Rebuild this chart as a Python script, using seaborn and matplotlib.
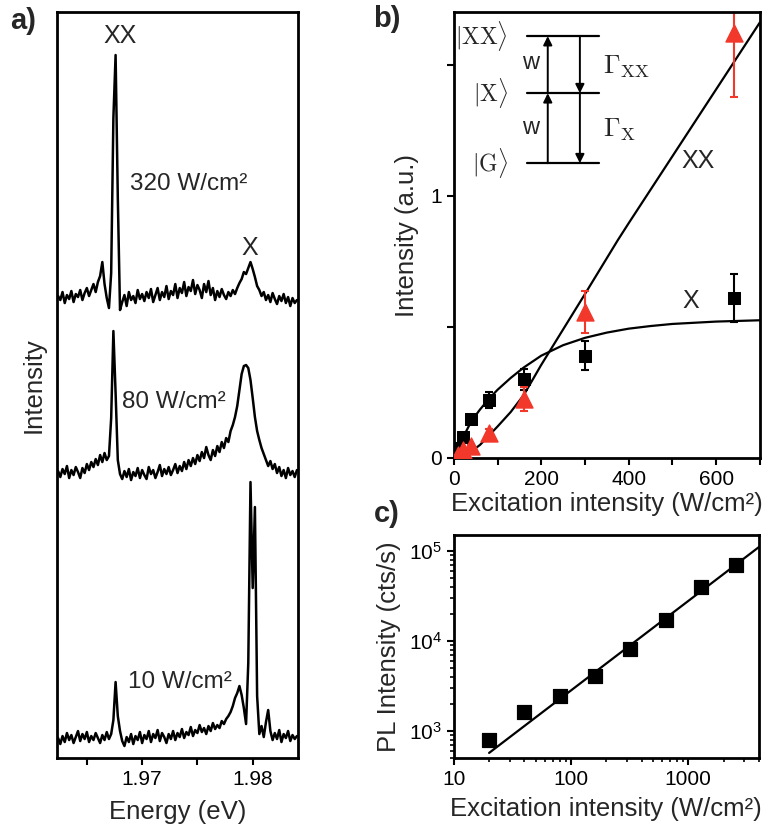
import numpy as np
import pandas as pd
import matplotlib
matplotlib.use('Agg')
import matplotlib.pyplot as plt
import seaborn as sns
from matplotlib.ticker import MultipleLocator, FixedLocator, NullFormatter, LogLocator

# ---- data: panel a, PL spectra (energy in eV, intensity in a.u., offsets included)
energy = [
    1.9624, 1.9626, 1.9628, 1.9630, 1.9632, 1.9634, 1.9636, 1.9638, 1.9640, 1.9642,
    1.9644, 1.9646, 1.9648, 1.9650, 1.9652, 1.9654, 1.9656, 1.9658, 1.9660, 1.9662,
    1.9664, 1.9666, 1.9668, 1.9670, 1.9672, 1.9674, 1.9676, 1.9678, 1.9680, 1.9682,
    1.9684, 1.9686, 1.9688, 1.9690, 1.9692, 1.9694, 1.9696, 1.9698, 1.9700, 1.9702,
    1.9704, 1.9706, 1.9708, 1.9710, 1.9712, 1.9714, 1.9716, 1.9718, 1.9720, 1.9722,
    1.9724, 1.9726, 1.9728, 1.9730, 1.9732, 1.9734, 1.9736, 1.9738, 1.9740, 1.9742,
    1.9744, 1.9746, 1.9748, 1.9750, 1.9752, 1.9754, 1.9756, 1.9758, 1.9760, 1.9762,
    1.9764, 1.9766, 1.9768, 1.9770, 1.9772, 1.9774, 1.9776, 1.9778, 1.9780, 1.9782,
    1.9784, 1.9786, 1.9788, 1.9790, 1.9792, 1.9794, 1.9796, 1.9798, 1.9800, 1.9802,
    1.9804, 1.9806, 1.9808, 1.9810, 1.9812, 1.9814, 1.9816, 1.9818, 1.9820, 1.9822,
    1.9824, 1.9826, 1.9828, 1.9830, 1.9832, 1.9834, 1.9836, 1.9838, 1.9840,
]
spec_320 = [
    462, 458, 466, 455, 463, 459, 467, 456, 464, 461,
    468, 458, 465, 470, 462, 468, 474, 466, 476, 482,
    496, 474, 460, 450, 485, 640, 703, 560, 448, 456,
    463, 452, 466, 458, 462, 455, 468, 459, 464, 457,
    466, 460, 469, 456, 463, 470, 458, 466, 461, 472,
    459, 467, 463, 474, 460, 470, 465, 476, 462, 471,
    467, 478, 464, 473, 468, 460, 474, 466, 477, 463,
    470, 458, 467, 461, 469, 463, 459, 466, 462, 468,
    464, 470, 475, 479, 486, 484, 490, 496, 489, 481,
    472, 468, 462, 466, 458, 463, 456, 465, 459, 454,
    462, 457, 464, 455, 461, 452, 460, 455, 458,
]
spec_80 = [
    287, 281, 289, 284, 292, 280, 288, 283, 291, 286,
    280, 290, 285, 294, 288, 296, 291, 299, 293, 303,
    296, 305, 298, 302, 340, 427, 365, 298, 284, 279,
    287, 281, 289, 278, 286, 282, 290, 280, 288, 283,
    279, 291, 284, 288, 280, 286, 293, 282, 289, 284,
    291, 283, 288, 294, 285, 292, 287, 296, 289, 298,
    292, 300, 294, 303, 297, 306, 300, 311, 303, 298,
    308, 302, 312, 306, 316, 310, 320, 316, 327, 333,
    341, 352, 368, 384, 392, 393, 390, 378, 360, 341,
    327, 318, 310, 304, 298, 292, 297, 289, 294, 285,
    291, 282, 288, 280, 290, 283, 287, 281, 288,
]
spec_10 = [
    20, 14, 22, 16, 25, 18, 23, 15, 21, 27,
    17, 24, 19, 26, 16, 22, 18, 25, 20, 15,
    23, 18, 26, 19, 24, 38, 76, 42, 27, 17,
    12, 21, 16, 24, 14, 22, 18, 26, 15, 23,
    19, 27, 16, 24, 20, 28, 17, 25, 21, 15,
    24, 19, 27, 18, 25, 21, 29, 20, 26, 23,
    31, 22, 28, 25, 33, 26, 30, 24, 32, 27,
    35, 29, 33, 30, 37, 34, 39, 42, 46, 52,
    60, 65, 72, 63, 50, 34, 95, 276, 170, 251,
    62, 24, 32, 21, 36, 48, 27, 18, 25, 19,
    28, 16, 24, 20, 27, 17, 23, 19, 22,
]

# ---- data: panel b, integrated intensities vs excitation
power_b = [10, 20, 40, 80, 160, 300, 640]
x_int = [0.04, 0.08, 0.15, 0.22, 0.30, 0.39, 0.61]
x_err = [0.01, 0.01, 0.015, 0.03, 0.04, 0.055, 0.09]
xx_int = [0.01, 0.03, 0.045, 0.095, 0.225, 0.555, 1.62]
xx_err = [0.005, 0.008, 0.01, 0.015, 0.045, 0.08, 0.245]

fit_x_p = [0, 10, 20, 40, 60, 80, 100, 130, 160, 200, 250, 300, 350, 400, 450, 500, 600, 700]
fit_x_i = [0, 0.04, 0.075, 0.14, 0.185, 0.225, 0.26, 0.305, 0.345, 0.39, 0.43, 0.458,
           0.478, 0.493, 0.503, 0.511, 0.52, 0.525]
fit_xx_p = [0, 20, 40, 60, 80, 100, 130, 160, 200, 250, 300, 375, 400, 500, 600, 700]
fit_xx_i = [0, 0.005, 0.025, 0.05, 0.085, 0.12, 0.175, 0.24, 0.355, 0.49, 0.625, 0.83,
            0.895, 1.15, 1.405, 1.66]

# ---- data: panel c, PL vs excitation (log-log)
power_c = [20, 40, 80, 160, 320, 640, 1280, 2560]
pl_c = [800, 1620, 2450, 4080, 8150, 17100, 39800, 69800]
fit_c_p = [20, 4000]
fit_c_i = [570, 110000]

sns.set_style('ticks')
plt.rcParams['font.family'] = ['Liberation Sans', 'DejaVu Sans']
plt.rcParams['mathtext.fontset'] = 'cm'
plt.rcParams['axes.edgecolor'] = 'black'
plt.rcParams['axes.linewidth'] = 2
plt.rcParams['xtick.color'] = 'black'
plt.rcParams['ytick.color'] = 'black'

red = '#f2372b'
lab_fs = 18.5
tick_fs = 15

fig = plt.figure(figsize=(7.64, 8.30), dpi=100)
ax_a = fig.add_axes([0.0746, 0.0867, 0.3155, 0.8988])
ax_b = fig.add_axes([0.594, 0.4482, 0.4005, 0.5373])
ax_c = fig.add_axes([0.594, 0.0867, 0.3992, 0.2687])

# ---------------- panel a
for spec in [spec_320, spec_80, spec_10]:
    sns.lineplot(x=energy, y=spec, ax=ax_a, color='black', lw=1.8)
ax_a.set_xlim(1.9623, 1.9841)
ax_a.set_ylim(0, 746)
ax_a.set_yticks([])
ax_a.xaxis.set_major_locator(FixedLocator([1.97, 1.98]))
ax_a.xaxis.set_minor_locator(FixedLocator([1.965, 1.975]))
ax_a.set_xticklabels(['1.97', '1.98'])
ax_a.tick_params(axis='x', which='both', direction='out', length=5, width=1.5, labelsize=tick_fs)
ax_a.set_xlabel('Energy (eV)', fontsize=lab_fs, labelpad=8)
ax_a.set_ylabel('Intensity', fontsize=lab_fs, labelpad=8)

ax_a.text(1.96798, 722, 'XX', fontsize=18, ha='center', va='center')
ax_a.text(1.97969, 510, 'X', fontsize=18, ha='center', va='center')
ax_a.text(1.96888, 574, '320 W/cm²', fontsize=17.5, ha='left', va='center')
ax_a.text(1.96816, 356, '80 W/cm²', fontsize=17.5, ha='left', va='center')
ax_a.text(1.96870, 76, '10 W/cm²', fontsize=17.5, ha='left', va='center')

# ---------------- panel b
sns.lineplot(x=fit_x_p, y=fit_x_i, ax=ax_b, color='black', lw=1.6)
sns.lineplot(x=fit_xx_p, y=fit_xx_i, ax=ax_b, color='black', lw=1.6)
ax_b.errorbar(power_b, x_int, yerr=x_err, fmt='none', ecolor='black', elinewidth=1.5, capsize=3, capthick=1.5)
ax_b.errorbar(power_b, xx_int, yerr=xx_err, fmt='none', ecolor=red, elinewidth=1.5, capsize=3, capthick=1.5)
sns.scatterplot(x=power_b, y=x_int, ax=ax_b, marker='s', s=85, color='black', edgecolor='black', zorder=5)
sns.scatterplot(x=power_b, y=xx_int, ax=ax_b, marker='^', s=150, color=red, edgecolor=red, zorder=5)
ax_b.set_xlim(0, 700)
ax_b.set_ylim(0, 1.7)
ax_b.xaxis.set_major_locator(MultipleLocator(200))
ax_b.xaxis.set_minor_locator(MultipleLocator(100))
ax_b.yaxis.set_major_locator(FixedLocator([0, 1]))
ax_b.yaxis.set_minor_locator(FixedLocator([0.5, 1.5]))
ax_b.tick_params(which='both', direction='out', length=5, width=1.5, labelsize=tick_fs)
ax_b.set_xlabel('Excitation intensity (W/cm²)', fontsize=lab_fs, labelpad=2)
ax_b.set_ylabel('Intensity (a.u.)', fontsize=lab_fs, labelpad=8)
ax_b.text(559, 1.133, 'XX', fontsize=18, ha='center', va='center')
ax_b.text(542, 0.60, 'X', fontsize=18, ha='center', va='center')

# level scheme inset
tr = ax_b.transAxes
for ylev in [0.946, 0.818, 0.661]:
    ax_b.plot([0.239, 0.474], [ylev, ylev], color='black', lw=1.6, transform=tr)
arrow = dict(arrowstyle='-|>', color='black', lw=1.4, mutation_scale=13, shrinkA=0, shrinkB=0)
ax_b.annotate('', xy=(0.307, 0.818), xytext=(0.307, 0.661), xycoords=tr, arrowprops=arrow)
ax_b.annotate('', xy=(0.307, 0.946), xytext=(0.307, 0.818), xycoords=tr, arrowprops=arrow)
ax_b.annotate('', xy=(0.412, 0.818), xytext=(0.412, 0.946), xycoords=tr, arrowprops=arrow)
ax_b.annotate('', xy=(0.412, 0.661), xytext=(0.412, 0.818), xycoords=tr, arrowprops=arrow)
ax_b.text(0.176, 0.946, r'$|\mathrm{XX}\rangle$', transform=tr, ha='right', va='center', fontsize=17)
ax_b.text(0.176, 0.818, r'$|\mathrm{X}\rangle$', transform=tr, ha='right', va='center', fontsize=17)
ax_b.text(0.176, 0.661, r'$|\mathrm{G}\rangle$', transform=tr, ha='right', va='center', fontsize=17)
ax_b.text(0.252, 0.886, 'w', transform=tr, ha='center', va='center', fontsize=17)
ax_b.text(0.252, 0.740, 'w', transform=tr, ha='center', va='center', fontsize=17)
ax_b.text(0.487, 0.877, r'$\Gamma_{\mathrm{XX}}$', transform=tr, ha='left', va='center', fontsize=19)
ax_b.text(0.487, 0.735, r'$\Gamma_{\mathrm{X}}$', transform=tr, ha='left', va='center', fontsize=19)

# ---------------- panel c
sns.lineplot(x=fit_c_p, y=fit_c_i, ax=ax_c, color='black', lw=1.6)
sns.scatterplot(x=power_c, y=pl_c, ax=ax_c, marker='s', s=115, color='black', edgecolor='black', zorder=5)
ax_c.set_xscale('log')
ax_c.set_yscale('log')
ax_c.set_xlim(10, 4000)
ax_c.set_ylim(500, 1.5e5)
ax_c.xaxis.set_major_locator(FixedLocator([10, 100, 1000]))
ax_c.set_xticklabels(['10', '100', '1000'])
ax_c.xaxis.set_minor_locator(LogLocator(base=10, subs=np.arange(2, 10)))
ax_c.xaxis.set_minor_formatter(NullFormatter())
ax_c.yaxis.set_major_locator(FixedLocator([1e3, 1e4, 1e5]))
ax_c.set_yticklabels([r'$\mathregular{10^3}$', r'$\mathregular{10^4}$', r'$\mathregular{10^5}$'])
ax_c.yaxis.set_minor_locator(LogLocator(base=10, subs=np.arange(2, 10)))
ax_c.yaxis.set_minor_formatter(NullFormatter())
ax_c.tick_params(which='major', direction='out', length=5, width=1.5, labelsize=tick_fs)
ax_c.tick_params(which='minor', direction='out', length=3, width=1.2)
ax_c.set_xlabel('Excitation intensity (W/cm²)', fontsize=lab_fs, labelpad=6)
ax_c.set_ylabel('PL Intensity (cts/s)', fontsize=lab_fs, labelpad=6)

# panel letters
fig.text(23 / 764, 1 - 21 / 830, 'a)', fontsize=21, fontweight='bold', ha='center', va='center')
fig.text(387 / 764, 1 - 19 / 830, 'b)', fontsize=21, fontweight='bold', ha='center', va='center')
fig.text(387 / 764, 1 - 514 / 830, 'c)', fontsize=21, fontweight='bold', ha='center', va='center')

fig.savefig('out.png', dpi=100)
